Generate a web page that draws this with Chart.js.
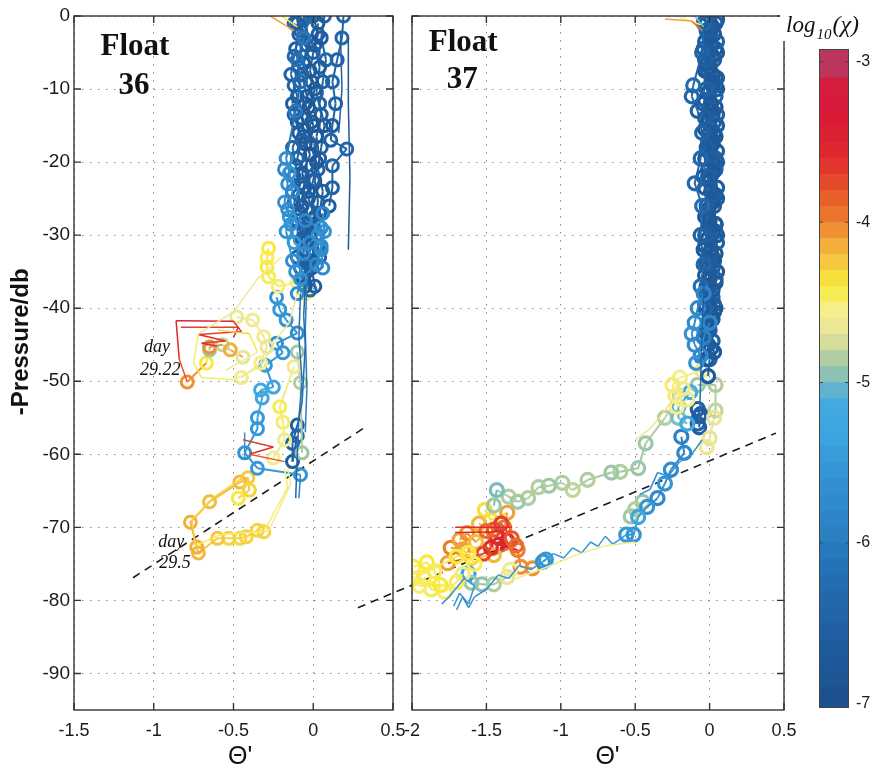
<!DOCTYPE html>
<html>
<head>
<meta charset="utf-8">
<script src="https://cdn.jsdelivr.net/npm/chart.js@4.4.1/dist/chart.umd.min.js"></script>
<style>
html,body{margin:0;padding:0;background:#fff}
#wrap{position:relative;width:875px;height:772px;overflow:hidden;background:#fff}
canvas{position:absolute;top:0}
</style>
</head>
<body>
<div id="wrap">
<canvas id="c36" width="420" height="772" style="left:0"></canvas>
<canvas id="c37" width="460" height="772" style="left:340px"></canvas>
<canvas id="cbar" width="95" height="772" style="left:780px"></canvas>
</div>
<script>
// axis ticks
const yTicks = [-90,-80,-70,-60,-50,-40,-30,-20,-10,0];
const x36Ticks = [-1.5,-1,-0.5,0,0.5];
const x37Ticks = [-2,-1.5,-1,-0.5,0,0.5];
const cbarTicks = [-7,-6,-5,-4,-3];

// colour map of log10(chi)
const cmapVals = [-7,-6.6,-6.2,-6,-5.6,-5.3,-5.1,-5,-4.9,-4.8,-4.7,-4.55,-4.4,-4.25,-4.1,-4,-3.8,-3.6,-3.3,-3.12,-3];
const cmapCols = ['#1d4f8c','#1f5e9f','#2470b4','#2a7dc0','#3393d3','#3da6df','#45abe0','#7bbcc0','#9ec7a8','#c4d49a','#e8e49a','#f5ee8a','#f8ea3c','#f5c840','#f0a23a','#ec7e2c','#e8552b','#df2a2e','#d8183a','#d41e40','#b93760'];

// float 36 : [theta', -pressure, log10 chi]
const f36ColA = [[-0.05,0,-6.6],[-0.08,-2,-6.5],[-0.11,-4.5,-6.6],[-0.09,-7,-6.4],[-0.12,-9.5,-6.5],[-0.13,-12,-6.6],[-0.1,-14.5,-6.7],[-0.07,-17,-6.5],[-0.1,-19.5,-6.4],[-0.12,-22,-6.6],[-0.09,-24.5,-6.5],[-0.08,-27,-6.6],[-0.1,-29.5,-6.4],[-0.06,-32,-6.5],[-0.08,-34.5,-6.6],[-0.05,-37,-6.7]];
const f36ColB = [[-0.02,0,-6.3],[-0.06,-3,-6.1],[-0.1,-6,-6.2],[-0.08,-9,-6.3],[-0.11,-13,-6.1],[-0.17,-19.5,-5.7],[-0.15,-21.5,-5.6],[-0.13,-24,-5.8],[-0.16,-26.5,-5.7],[-0.14,-28.5,-5.6],[-0.12,-31,-5.5],[-0.06,-32.5,-5.7],[-0.02,-31,-5.8],[0.03,-30,-5.7]];
const f36ColC = [[0,0,-6.7],[0.03,-2.5,-6.6],[0,-5,-6.5],[-0.02,-7.5,-6.7],[0.01,-10,-6.6],[-0.03,-12.5,-6.8],[0,-15,-6.7],[-0.02,-17.5,-6.6],[0.02,-20,-6.7],[0,-22.5,-6.5],[-0.03,-25,-6.6],[0.01,-27.5,-6.7],[-0.02,-30,-6.6],[0,-32.5,-6.5],[-0.04,-35,-6.6]];
const f36ColD = [[0.07,0,-6.5],[0.05,-3,-6.6],[0.08,-6,-6.4],[0.06,-9,-6.6],[0.04,-12,-6.5],[0.07,-15,-6.7],[0.05,-18,-6.6],[0.03,-21,-6.5],[0.06,-24,-6.6],[0.04,-27,-6.5],[0.02,-30,-6.7],[0.04,-33,-6.6]];
const f36ColE = [[0.19,0,-6.5],[0.18,-3,-6.4],[0.15,-6,-6.5],[0.12,-9,-6.4],[0.14,-12,-6.5],[0.12,-15,-6.6],[0.11,-17,-6.5],[0.21,-18.2,-6.4],[0.12,-20.5,-6.5],[0.12,-23.5,-6.5],[0.1,-26,-6.6]];
const f36ColF = [[-0.1,-1,-6.6],[-0.04,-4,-6.5],[-0.07,-8,-6.6],[-0.04,-11,-6.7],[-0.07,-14,-6.6],[-0.05,-17.5,-6.8],[-0.04,-20.5,-6.6],[-0.06,-23.5,-6.7],[-0.04,-26.5,-6.5],[-0.05,-29,-6.6],[-0.03,-34,-6.5],[-0.02,-37.5,-6.4]];
const f36ColG = [[-0.05,-28,-5.8],[0.05,-29,-5.6],[0.05,-31.5,-5.7],[0.02,-34,-5.8],[-0.08,-36,-5.6],[-0.1,-38,-5.7]];
const f36ColH = [[-0.12,-1,-6.5],[-0.09,-2.5,-6.6],[-0.12,-5.5,-6.4],[-0.14,-8,-6.5],[-0.1,-11,-6.6],[-0.12,-13.5,-6.5],[-0.09,-16,-6.6],[-0.13,-18,-6.4],[-0.11,-20.5,-6.6],[-0.08,-23,-6.5],[-0.12,-25.5,-6.6],[-0.1,-28,-6.5],[-0.07,-30.5,-6.6],[-0.1,-33,-6.5],[-0.07,-36,-6.6]];
const f36ColI = [[0.03,-1,-6.6],[0.01,-4,-6.7],[0.04,-7,-6.6],[0.02,-10.5,-6.5],[0.05,-13.5,-6.6],[0.02,-16.5,-6.7],[0.04,-19.5,-6.6],[0.01,-22.5,-6.7],[0.03,-25.5,-6.6],[0,-28.5,-6.5],[0.03,-31.5,-6.6],[-0.01,-34.5,-6.7],[0.01,-37,-6.6]];
const f36ColJ = [[-0.18,-21,-5.8],[-0.16,-23,-5.7],[-0.18,-25.5,-5.6],[-0.15,-27.5,-5.5],[-0.17,-29.5,-5.6],[-0.13,-33.5,-5.7],[-0.11,-35,-5.6]];
const f36ColK = [[-0.06,-0.5,-6.8],[-0.02,-3.5,-6.7],[-0.06,-6.5,-6.8],[-0.01,-9,-6.7],[-0.05,-12,-6.8],[-0.01,-14.5,-6.7],[-0.06,-16.5,-6.8],[-0.02,-19,-6.7],[-0.07,-21.5,-6.8],[-0.03,-24,-6.7],[-0.07,-26,-6.8],[-0.02,-28.5,-6.7],[-0.05,-31,-6.8],[-0.01,-33.5,-6.7],[-0.06,-36,-6.8]];
const f36ColL = [[0.06,-27,-5.8],[0.07,-29.5,-5.6],[0.05,-32,-5.7],[0.06,-34.5,-5.8]];
const f36Blue = [[-0.23,-38.5,-5.6],[-0.21,-40.2,-5.5],[-0.17,-41.6,-5.6],[-0.1,-43.4,-5.7],[-0.23,-44.8,-5.6],[-0.19,-46.1,-5.5],[-0.3,-47.8,-5.5],[-0.25,-50.8,-5.3],[-0.33,-51.2,-5.2],[-0.32,-52.3,-5.3],[-0.35,-55,-5.5],[-0.35,-56.5,-5.5],[-0.43,-59.8,-5.6],[-0.35,-61.9,-5.5],[-0.08,-62.8,-5.6]];
const f36Deep = [[-0.1,-56,-6.6],[-0.13,-58.5,-6.5],[-0.13,-61,-6.6],[-0.1,-57.5,-6.4]];
const f36Yellow = [[-0.28,-31.8,-4.4],[-0.29,-33.1,-4.45],[-0.29,-34.4,-4.4],[-0.28,-35.7,-4.45],[-0.22,-37,-4.5],[-0.1,-36.5,-4.6],[-0.05,-38,-4.5]];
const f36Pale = [[-0.48,-41.2,-4.65],[-0.38,-41.6,-4.6],[-0.31,-43.9,-4.6],[-0.29,-45.3,-4.65],[-0.33,-47.5,-4.55],[-0.45,-49.5,-4.6]];
const f36Orange = [[-0.79,-50.1,-4.05],[-0.67,-47.5,-4.4],[-0.65,-45.7,-4.9],[-0.65,-45.3,-4.05],[-0.57,-45,-4.8],[-0.52,-45.7,-4.15],[-0.44,-46.7,-4.7]];
const f36Mid = [[-0.12,-48,-4.6],[-0.21,-53.5,-4.45],[-0.19,-55.6,-4.5],[-0.18,-58,-4.6],[-0.25,-60.5,-4.6]];
const f36Sage = [[-0.1,-46,-4.9],[-0.08,-50.2,-4.85],[-0.07,-59.8,-4.9]];
const f36Loop = [[-0.31,-70.6,-4.3],[-0.35,-70.4,-4.3],[-0.42,-71.3,-4.3],[-0.46,-71.5,-4.3],[-0.53,-71.5,-4.3],[-0.6,-71.5,-4.25],[-0.72,-73.5,-4.2],[-0.73,-72.7,-4.15],[-0.77,-69.3,-4.15],[-0.65,-66.5,-4.2],[-0.46,-63.8,-4.2],[-0.41,-63.2,-4.25],[-0.4,-64.9,-4.3],[-0.47,-66,-4.4]];
// float 36 thin traces without rings
const f36LineDeep = [[-0.05,-37,-6.4],[-0.06,-41,-6.3],[-0.05,-45,-6.4],[-0.06,-49,-6.3],[-0.07,-53,-6.4],[-0.1,-56,-6.6]];
const f36LineDeep2 = [[-0.08,-38,-6.2],[-0.09,-44,-6.3],[-0.07,-50,-6.2],[-0.09,-55,-6.3],[-0.1,-60,-6.4],[-0.11,-66,-6.2]];
const f36LineDeep3 = [[-0.04,-36,-6.0],[-0.05,-43,-6.1],[-0.04,-51,-6.0],[-0.05,-57,-6.1]];
const f36LineEdge = [[0.22,-3,-6.8],[0.22,-12,-6.8],[0.23,-22,-6.7],[0.22,-32,-6.8]];
const f36LineEdge2 = [[0.17,-2,-6.5],[0.18,-10,-6.6],[0.16,-16,-6.6]];
const f36LineRed1 = [[-0.79,-50.1,-3.8],[-0.84,-47,-3.6],[-0.86,-41.7,-3.5],[-0.5,-41.8,-3.6],[-0.45,-43.2,-3.7],[-0.72,-43.6,-3.6],[-0.55,-44.5,-3.7],[-0.7,-44.8,-3.6],[-0.6,-45.2,-3.9]];
const f36LineRed2 = [[-0.83,-42.6,-3.7],[-0.47,-42.6,-3.6],[-0.5,-44,-3.8]];
const f36LinePale = [[-0.2,-33,-4.6],[-0.35,-36,-4.6],[-0.5,-40.5,-4.7],[-0.72,-43.5,-4.5],[-0.75,-47.5,-4.4],[-0.7,-49.5,-4.5],[-0.5,-49.8,-4.6],[-0.33,-48,-4.7],[-0.24,-44.5,-4.6],[-0.15,-42,-4.7],[-0.1,-38,-4.6]];
const f36LinePale2 = [[-0.6,-43,-4.3],[-0.4,-43.5,-4.4],[-0.35,-46,-4.6],[-0.55,-48.5,-4.5]];
const f36LineRed3 = [[-0.44,-58,-3.7],[-0.25,-59,-3.6],[-0.4,-60,-3.8],[-0.18,-61,-3.7]];
const f36LineStick = [[-0.43,-57,-5.6],[-0.43,-60.5,-5.6]];
const f36LineStick2 = [[-0.08,-62.8,-5.9],[-0.09,-66,-5.9]];
const f36LineLoop = [[-0.18,-62,-4.5],[-0.16,-64.5,-4.5],[-0.31,-70.6,-4.4]];
const f36LineLoop2 = [[-0.16,-62,-4.6],[-0.14,-64,-4.6],[-0.28,-70.5,-4.5],[-0.58,-71,-4.4],[-0.74,-72.5,-4.3],[-0.76,-69,-4.3],[-0.63,-66,-4.3],[-0.45,-63.3,-4.3]];
const f36LineTop = [[-0.27,0,-4.1],[-0.12,-2,-4.0]];
const f36LineTop2 = [[-0.2,0,-4.4],[-0.1,-1.5,-4.5]];
const f36Dash = [[-1.13,-76.9],[0.325,-56.3]];

// float 37
const f37ColA = [[0,0,-6.7],[-0.02,-2,-6.6],[0.01,-4,-6.7],[-0.03,-6,-6.6],[0.02,-8,-6.7],[-0.02,-10,-6.5],[0.01,-12,-6.7],[-0.03,-14,-6.6],[0,-16,-6.7],[-0.02,-18,-6.6],[0.02,-20,-6.7],[-0.01,-22,-6.6],[0.01,-24,-6.7],[-0.02,-26,-6.6],[0,-28,-6.7],[-0.03,-30,-6.6],[0.01,-32,-6.7],[-0.02,-34,-6.6],[0,-36,-6.7],[-0.03,-38,-6.6],[0,-40,-6.7]];
const f37ColB = [[0.04,-1,-6.6],[0.05,-3.5,-6.5],[0.03,-6,-6.6],[0.05,-8.5,-6.6],[0.04,-11,-6.5],[0.05,-13.5,-6.6],[0.03,-16,-6.7],[0.05,-18.5,-6.6],[0.04,-21,-6.5],[0.05,-23.5,-6.6],[0.03,-26,-6.6],[0.04,-28.5,-6.7],[0.05,-31,-6.6],[0.03,-33.5,-6.5],[0.04,-36,-6.6],[0.02,-38.5,-6.6]];
const f37ColC = [[-0.04,-1,-6.4],[-0.05,-5,-6.5],[-0.11,-9.5,-6.3],[-0.12,-11,-6.4],[-0.08,-13,-6.5],[-0.05,-16,-6.5],[-0.06,-19.5,-6.4],[-0.1,-22.9,-6.4],[-0.05,-26,-6.3],[-0.06,-30,-6.5],[-0.04,-34,-6.4],[-0.06,-37,-6.3],[-0.03,-40,-6.5]];
const f37ColD = [[0.01,-1.5,-6.6],[-0.01,-5,-6.7],[0.02,-9,-6.6],[0,-13,-6.7],[0.02,-17,-6.6],[-0.01,-21,-6.7],[0.02,-25,-6.6],[0,-29,-6.7],[0.02,-33,-6.6],[-0.01,-37,-6.7],[0.01,-41,-6.6],[0,-43,-6.5],[-0.01,-45,-6.6],[0,-47,-6.5],[-0.01,-49.3,-6.7]];
const f37ColE = [[-0.02,-1,-6.6],[0.03,-2.5,-6.7],[-0.04,-4.5,-6.6],[0,-7,-6.7],[0.04,-9.5,-6.6],[-0.04,-12,-6.7],[0.03,-14.5,-6.6],[-0.01,-17,-6.7],[0.04,-19.5,-6.6],[-0.04,-22,-6.7],[0.02,-24.5,-6.6],[-0.01,-27,-6.7],[0.04,-29.5,-6.6],[-0.04,-32,-6.7],[0.02,-34.5,-6.6],[-0.02,-37,-6.7],[0.03,-39.5,-6.6],[-0.01,-42,-6.7],[0.02,-44.5,-6.6],[-0.02,-47,-6.7]];
const f37ColF = [[0.05,-0.5,-6.7],[0,-3,-6.6],[0.05,-5,-6.7],[-0.01,-7.5,-6.6],[0.05,-10,-6.7],[0,-12.5,-6.6],[0.05,-15,-6.7],[-0.01,-17.5,-6.6],[0.05,-20,-6.7],[0,-22.5,-6.6],[0.05,-25,-6.7],[-0.01,-27.5,-6.6],[0.05,-30,-6.7],[0,-32.5,-6.6],[0.05,-35,-6.7],[-0.01,-37.5,-6.6],[0.04,-40,-6.7],[-0.02,-43,-6.6],[0.03,-46,-6.7]];
const f37ColG = [[0.02,-1.5,-6.8],[-0.03,-3.5,-6.8],[0.02,-5.5,-6.8],[-0.03,-7.5,-6.8],[0.02,-9.5,-6.8],[-0.03,-11.5,-6.8],[0.02,-13.5,-6.8],[-0.03,-15.5,-6.8],[0.02,-17.5,-6.8],[-0.03,-19.5,-6.8],[0.02,-21.5,-6.8],[-0.03,-23.5,-6.8],[0.02,-25.5,-6.8],[-0.03,-27.5,-6.8],[0.02,-29.5,-6.8],[-0.03,-31.5,-6.8],[0.02,-33.5,-6.8],[-0.03,-35.5,-6.8],[0.02,-37.5,-6.8],[-0.03,-39.5,-6.8],[0.02,-41.5,-6.8],[-0.02,-43.5,-6.8],[0.01,-45.5,-6.8]];
const f37ColH = [[0,-2.5,-6.9],[0.04,-4.5,-6.8],[-0.01,-6.5,-6.9],[0.04,-8.5,-6.8],[-0.01,-10.5,-6.9],[0.04,-12.5,-6.8],[-0.01,-14.5,-6.9],[0.04,-16.5,-6.8],[-0.01,-18.5,-6.9],[0.04,-20.5,-6.8],[-0.01,-22.5,-6.9],[0.04,-24.5,-6.8],[-0.01,-26.5,-6.9],[0.04,-28.5,-6.8],[-0.01,-30.5,-6.9],[0.04,-32.5,-6.8],[-0.01,-34.5,-6.9],[0.04,-36.5,-6.8],[-0.01,-38.5,-6.9],[0.03,-40.5,-6.8],[-0.01,-42.5,-6.9]];
const f37ColLight = [[-0.04,-38,-5.8],[-0.08,-40,-5.8],[-0.1,-42,-5.7],[-0.12,-43.5,-5.6],[-0.1,-45,-5.7],[-0.06,-46.5,-5.8],[-0.09,-47.5,-5.6],[-0.04,-44,-5.9],[0,-42,-5.8]];
const f37MidYellow = [[-0.05,-48.5,-4.6],[-0.2,-49.5,-4.55],[-0.25,-50.5,-4.5],[-0.23,-52,-4.5],[-0.18,-51,-4.6],[-0.22,-53.5,-4.55],[-0.15,-52.5,-4.6]];
const f37MidSage = [[-0.08,-50.5,-4.9],[0.04,-50.5,-4.85],[0.04,-54,-4.8],[0.03,-55,-4.7],[0,-57.8,-4.7],[-0.02,-59,-4.65]];
const f37MidTeal = [[-0.13,-51.5,-5.1],[-0.21,-53.5,-5.1],[-0.21,-55,-5.0],[-0.15,-55.8,-5.2]];
const f37Blob = [[-0.08,-53.8,-6.6],[-0.07,-54.8,-6.6],[-0.08,-55.8,-6.5],[-0.06,-54.5,-6.6],[-0.07,-56.3,-6.6]];
const f37Sage = [[-0.2,-52,-4.8],[-0.3,-55,-4.85],[-0.43,-58.5,-4.9],[-0.48,-61.9,-4.9],[-0.6,-62.4,-4.85],[-0.66,-62.5,-4.9],[-0.82,-63.5,-4.85],[-0.92,-64.9,-4.8],[-0.99,-63.9,-4.85],[-1.08,-64.3,-4.9],[-1.15,-64.5,-4.85],[-1.22,-66,-4.85],[-1.29,-66.5,-4.9],[-1.35,-65.8,-4.85],[-1.43,-64.9,-5.0],[-1.45,-67,-4.9]];
const f37Blue = [[-0.19,-57.6,-5.9],[-0.17,-59.8,-5.8],[-0.26,-62.1,-5.7],[-0.3,-64,-5.6],[-0.35,-66,-5.8],[-0.42,-67.2,-5.6],[-0.48,-68.6,-5.3],[-0.51,-71,-5.6],[-0.56,-71,-5.5]];
const f37BlueRing = [[-1.12,-74.7,-5.6],[-1.1,-74.4,-5.5]];
const f37SageSmall = [[-0.45,-66.5,-4.9],[-0.53,-68.5,-4.9],[-0.5,-67.5,-4.85]];
const f37Orange = [[-1.51,-67.6,-4.35],[-1.47,-69,-4.35],[-1.36,-68,-4.1],[-1.38,-70,-3.95],[-1.43,-71.3,-3.6],[-1.36,-71.8,-3.55],[-1.42,-72.4,-3.5],[-1.29,-73.1,-4.0],[-1.27,-75.4,-4.05],[-1.19,-75.6,-4.05]];
const f37Orange2 = [[-1.68,-71.7,-4.1],[-1.63,-70.8,-4.05],[-1.57,-72,-4.2],[-1.5,-70.5,-3.9],[-1.47,-72.8,-3.6],[-1.52,-73.6,-3.75],[-1.76,-74.9,-4.1]];
const f37Cluster = [[-1.55,-69.5,-4.2],[-1.45,-70.3,-3.8],[-1.4,-69.5,-3.7],[-1.33,-71.5,-3.8],[-1.3,-72.5,-3.9],[-1.45,-73.8,-4.2],[-1.6,-74.2,-4.3],[-1.66,-73,-4.1],[-1.74,-72.8,-4.0]];
const f37Yellow = [[-1.99,-75.4,-4.45],[-1.9,-74.8,-4.4],[-1.85,-76,-4.45],[-1.81,-77.9,-4.4],[-1.95,-78,-4.5],[-1.99,-77,-4.45],[-1.7,-74,-4.4],[-1.62,-73.5,-4.4],[-1.58,-75,-4.45]];
const f37Yellow2 = [[-1.92,-76.8,-4.45],[-1.87,-78.5,-4.45],[-1.78,-78.8,-4.5],[-1.7,-77.5,-4.45],[-1.66,-76.4,-4.6]];
const f37SageLow = [[-1.62,-76.3,-5.4],[-1.6,-77.6,-4.9],[-1.53,-77.8,-4.95],[-1.45,-77.8,-4.85],[-1.36,-76.8,-4.7],[-1.34,-75.8,-4.6]];
// float 37 thin traces without rings
const f37LineBlue = [[-0.56,-71,-5.5],[-0.6,-71.6,-5.5],[-0.65,-72.3,-5.6],[-0.7,-71.2,-5.5],[-0.75,-72.6,-5.6],[-0.8,-72,-5.5],[-0.86,-73.5,-5.6],[-0.92,-72.8,-5.5],[-0.98,-74.2,-5.6],[-1.05,-73.6,-5.5],[-1.12,-74.7,-5.6],[-1.2,-75.8,-5.5],[-1.28,-75.2,-5.6],[-1.35,-77,-5.5],[-1.42,-76.5,-5.6],[-1.5,-78.5,-5.7],[-1.58,-79.5,-5.6],[-1.62,-81,-5.7],[-1.66,-79.5,-5.6],[-1.7,-81.3,-5.7]];
const f37LinePale = [[-0.5,-72,-4.6],[-0.7,-72.5,-4.6],[-0.9,-73.8,-4.6],[-1.1,-75.5,-4.6],[-1.3,-77,-4.6]];
const f37LineJag = [[-0.05,-58,-5.7],[-0.12,-60,-5.6],[-0.2,-61,-5.7],[-0.28,-63,-5.6],[-0.35,-62.5,-5.7],[-0.4,-64.8,-5.6],[-0.47,-65.5,-5.7]];
const f37LineSage = [[-0.5,-58,-4.7],[-0.4,-56.5,-4.7],[-0.3,-54,-4.7],[-0.2,-51,-4.7]];
const f37LineRed1 = [[-1.71,-70,-3.6],[-1.33,-70,-3.6]];
const f37LineRed2 = [[-1.71,-70.7,-3.5],[-1.38,-70.6,-3.5]];
const f37LineBlueLow = [[-1.72,-80.8,-5.6],[-1.68,-79,-5.7],[-1.62,-80.5,-5.5],[-1.58,-78,-5.6],[-1.65,-77,-5.6],[-1.75,-79.5,-5.7],[-1.8,-80.5,-5.6]];
const f37LineCol = [[-0.03,-2,-6.6],[-0.04,-15,-6.5],[-0.02,-30,-6.6],[-0.05,-42,-6.4],[-0.06,-50,-6.3],[-0.07,-56,-6.4]];
const f37LineTop = [[-0.3,-0.4,-4.1],[-0.12,-0.7,-4.0],[-0.05,-2,-4.2]];
const f37LineTop2 = [[-0.2,-0.2,-4.5],[-0.06,-1.2,-4.6]];
const f37LineTop3 = [[-0.1,0,-5.0],[-0.04,-1.5,-5.1]];
const f37Dash = [[-2.364,-81],[0.446,-57.1]];

function hexRgb(h) { return [1,3,5].map(i => parseInt(h.substr(i,2),16)); }
function chiColor(v) {
  if (v <= cmapVals[0]) return cmapCols[0];
  for (let i = 1; i < cmapVals.length; i++) {
    if (v <= cmapVals[i]) {
      const t = (v - cmapVals[i-1]) / (cmapVals[i] - cmapVals[i-1]);
      const a = hexRgb(cmapCols[i-1]), b = hexRgb(cmapCols[i]);
      return 'rgb(' + a.map((c,k) => Math.round(c + (b[k]-c)*t)).join(',') + ')';
    }
  }
  return cmapCols[cmapCols.length-1];
}

function trackSet(pts, rings, radius, ringWidth) {
  return {
    data: pts.map(p => ({x:p[0], y:p[1]})),
    showLine: true,
    borderWidth: rings ? 2 : 1.5,
    borderColor: chiColor(pts[0][2]),
    segment: { borderColor: c => chiColor(pts[c.p0DataIndex][2]) },
    pointRadius: rings ? radius : 0,
    pointBorderWidth: ringWidth,
    pointBorderColor: pts.map(p => chiColor(p[2])),
    pointBackgroundColor: 'rgba(0,0,0,0)',
    pointHoverRadius: 0
  };
}

const framePlugin = {
  id: 'frame',
  afterDatasetsDraw(chart, args, opts) {
    const {ctx, chartArea: a, scales} = chart;
    ctx.save();
    ctx.strokeStyle = '#333';
    ctx.lineWidth = 1.4;
    ctx.beginPath();
    scales.x.ticks.forEach(t => {
      const px = scales.x.getPixelForValue(t.value);
      ctx.moveTo(px, a.bottom); ctx.lineTo(px, a.bottom - 7);
      ctx.moveTo(px, a.top); ctx.lineTo(px, a.top + 7);
    });
    scales.y.ticks.forEach(t => {
      const py = scales.y.getPixelForValue(t.value);
      ctx.moveTo(a.left, py); ctx.lineTo(a.left + 7, py);
      ctx.moveTo(a.right, py); ctx.lineTo(a.right - 7, py);
    });
    ctx.stroke();
    ctx.strokeRect(a.left, a.top, a.right - a.left, a.bottom - a.top);
    ctx.fillStyle = '#111';
    ctx.textAlign = 'center';
    ctx.textBaseline = 'middle';
    (opts.notes || []).forEach(n => {
      ctx.save();
      ctx.font = n.font;
      ctx.translate(scales.x.getPixelForValue(n.x), scales.y.getPixelForValue(n.y));
      if (n.rot) ctx.rotate(n.rot * Math.PI / 180);
      ctx.fillText(n.text, 0, 0);
      ctx.restore();
    });
    ctx.restore();
  }
};

function noPad(s) { s.paddingLeft = 0; s.paddingRight = 0; s.paddingTop = 0; s.paddingBottom = 0; }

function panel(id, o) {
  const sets = [];
  o.lines.forEach(t => sets.push(trackSet(t, false, o.radius, o.ringWidth)));
  o.rings.forEach(t => sets.push(trackSet(t, true, o.radius, o.ringWidth)));
  sets.push({
    data: o.dash.map(p => ({x:p[0], y:p[1]})),
    showLine: true, borderColor: '#1a1a1a', borderWidth: 1.6, borderDash: [8,6],
    pointRadius: 0, clip: false
  });
  return new Chart(document.getElementById(id), {
    type: 'scatter',
    data: { datasets: sets },
    options: {
      responsive: false, animation: false, events: [],
      layout: { padding: { left: 0, top: 16, right: o.padRight, bottom: 0 } },
      plugins: { legend: {display:false}, tooltip: {enabled:false}, frame: { notes: o.notes } },
      scales: {
        x: {
          type: 'linear', min: o.xTicks[0], max: o.xTicks[o.xTicks.length-1],
          afterBuildTicks: s => { s.ticks = o.xTicks.map(v => ({value:v})); },
          afterFit: s => { s.height = 62; noPad(s); },
          grid: { color: '#8a8a8a', lineWidth: 1, drawTicks: false },
          border: { display: false, dash: [1.5,6.5] },
          ticks: { padding: 10, color: '#1a1a1a', autoSkip: false, maxRotation: 0, callback: v => String(v), font: { family: 'Liberation Sans', size: 18 } }
        },
        y: {
          type: 'linear', min: -95, max: 0,
          afterBuildTicks: s => { s.ticks = yTicks.map(v => ({value:v})); },
          afterFit: s => { s.width = o.yWidth; noPad(s); },
          grid: { color: '#8a8a8a', lineWidth: 1, drawTicks: false },
          border: { display: false, dash: [1.5,6.5] },
          ticks: { display: o.yLabels, padding: 4, color: '#1a1a1a', callback: v => String(v), font: { family: 'Liberation Sans', size: 19 } }
        }
      }
    },
    plugins: [framePlugin]
  });
}

panel('c36', {
  xTicks: x36Ticks, yWidth: 74, padRight: 27, yLabels: true, radius: 6, ringWidth: 3,
  lines: [f36LineDeep, f36LineDeep2, f36LineDeep3, f36LineEdge, f36LineEdge2, f36LineTop, f36LineTop2, f36LinePale, f36LinePale2, f36LineRed1, f36LineRed2, f36LineRed3, f36LineStick, f36LineStick2, f36LineLoop, f36LineLoop2],
  rings: [f36ColB, f36ColJ, f36ColG, f36ColL, f36ColH, f36ColA, f36ColF, f36ColK, f36ColC, f36ColI, f36ColD, f36ColE, f36Yellow, f36Pale, f36Orange, f36Mid, f36Blue, f36Sage, f36Deep, f36Loop],
  dash: f36Dash,
  notes: [
    {text:'Float', x:-1.118, y:-4.2, font:'bold 31px "Liberation Serif"'},
    {text:'36', x:-1.124, y:-9.6, font:'bold 31px "Liberation Serif"'},
    {text:'day', x:-0.98, y:-45.4, font:'italic 18px "Liberation Serif"'},
    {text:'29.22', x:-0.96, y:-48.5, font:'italic 18px "Liberation Serif"'},
    {text:'day', x:-0.89, y:-72.0, font:'italic 18px "Liberation Serif"'},
    {text:'29.5', x:-0.867, y:-74.9, font:'italic 18px "Liberation Serif"'},
    {text:'-Pressure/db', x:-1.83, y:-44.6, rot:-90, font:'bold 24px "Liberation Sans"'},
    {text:"\u0398'", x:-0.459, y:-101.4, font:'25px "Liberation Sans"'}
  ]
});

panel('c37', {
  xTicks: x37Ticks, yWidth: 72, padRight: 16, yLabels: false, radius: 6.5, ringWidth: 3.2,
  lines: [f37LineCol, f37LineTop, f37LineTop2, f37LineTop3, f37LineSage, f37LineJag, f37LinePale, f37LineBlue, f37LineBlueLow, f37LineRed1, f37LineRed2],
  rings: [f37ColLight, f37ColC, f37ColA, f37ColE, f37ColG, f37ColB, f37ColF, f37ColH, f37ColD, f37MidYellow, f37MidTeal, f37MidSage, f37Blob, f37Sage, f37Blue, f37SageSmall, f37BlueRing, f37Yellow, f37Yellow2, f37SageLow, f37Orange2, f37Cluster, f37Orange],
  dash: f37Dash,
  notes: [
    {text:'Float', x:-1.656, y:-3.7, font:'bold 31px "Liberation Serif"'},
    {text:'37', x:-1.663, y:-8.8, font:'bold 31px "Liberation Serif"'},
    {text:"\u0398'", x:-0.686, y:-101.4, font:'25px "Liberation Sans"'}
  ]
});

// colour bar
const cbarBands = [];
for (let v = -7; v < -3 - 1e-9; v += 0.1) cbarBands.push([v, v + 0.1]);
cbarBands[0][0] = -7.03;
cbarBands[cbarBands.length-1][1] = -2.92;

const cbarPlugin = {
  id: 'cbarDeco',
  afterDraw(chart) {
    const {ctx, chartArea: a, scales} = chart;
    ctx.save();
    ctx.strokeStyle = '#444';
    ctx.lineWidth = 1;
    ctx.strokeRect(a.left + 0.5, a.top + 0.5, a.right - a.left - 1, a.bottom - a.top - 1);
    ctx.beginPath();
    cbarTicks.forEach(v => {
      const py = scales.y.getPixelForValue(v);
      ctx.moveTo(a.left, py); ctx.lineTo(a.left + 4, py);
      ctx.moveTo(a.right, py); ctx.lineTo(a.right - 4, py);
    });
    ctx.stroke();
    ctx.fillStyle = '#fff';
    ctx.fillRect(0, 0, chart.width, 41);
    ctx.fillStyle = '#111';
    ctx.textBaseline = 'alphabetic';
    ctx.textAlign = 'left';
    ctx.font = 'italic 23px "Liberation Serif"';
    ctx.fillText('log', 6, 32);
    const w1 = ctx.measureText('log').width;
    ctx.font = 'italic 15px "Liberation Serif"';
    ctx.fillText('10', 6 + w1 + 1, 39);
    const w2 = ctx.measureText('10').width;
    ctx.font = 'italic 24px "Liberation Serif"';
    ctx.fillText('(\u03c7)', 6 + w1 + w2 + 2, 32);
    ctx.restore();
  }
};

new Chart(document.getElementById('cbar'), {
  type: 'bar',
  data: {
    labels: [''],
    datasets: cbarBands.map(b => ({
      data: [[b[0], b[1]]],
      backgroundColor: chiColor((b[0] + b[1]) / 2),
      borderWidth: 0, grouped: false, barPercentage: 1, categoryPercentage: 1
    }))
  },
  options: {
    responsive: false, animation: false, events: [],
    layout: { padding: { left: 39, top: 49, right: 0, bottom: 64 } },
    plugins: { legend: {display:false}, tooltip: {enabled:false} },
    scales: {
      x: { display: false },
      y: {
        position: 'right', min: -7.03, max: -2.92,
        afterBuildTicks: s => { s.ticks = cbarTicks.map(v => ({value:v})); },
        afterFit: s => { s.width = 26; noPad(s); },
        grid: { display: false, drawTicks: false }, border: { display: false },
        ticks: { padding: 7, color: '#1a1a1a', callback: v => String(v), font: { family: 'Liberation Sans', size: 16 } }
      }
    }
  },
  plugins: [cbarPlugin]
});
</script>
</body>
</html>
